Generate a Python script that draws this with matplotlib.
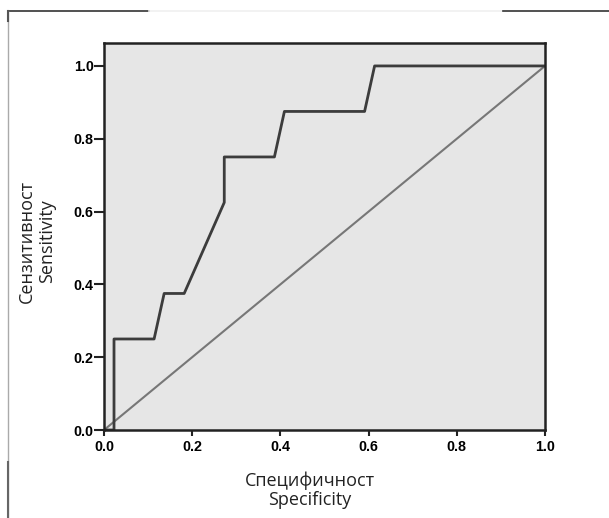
import matplotlib.pyplot as plt
from matplotlib.lines import Line2D

# ROC-крива (1 - специфичност, сензитивност)
fpr = [0.0, 0.0227, 0.0227, 0.1136, 0.1364, 0.1818, 0.2727, 0.2727,
       0.3864, 0.4091, 0.5909, 0.6136, 1.0]
tpr = [0.0, 0.0, 0.25, 0.25, 0.375, 0.375, 0.625, 0.75,
       0.75, 0.875, 0.875, 1.0, 1.0]
ref_x = [0.0, 1.0]
ref_y = [0.0, 1.0]
ticks = [0.0, 0.2, 0.4, 0.6, 0.8, 1.0]

W, H = 609, 518
fig = plt.figure(figsize=(W / 100, H / 100), dpi=100)
ax = fig.add_axes([104 / W, 1 - 430 / H, (545 - 104) / W, (430 - 43) / H])
ax.set_facecolor('#e6e6e6')

ax.plot(ref_x, ref_y, color='#777777', lw=1.5, solid_capstyle='butt')
ax.plot(fpr, tpr, color='#3c3c3c', lw=2.0)

ax.set_xlim(0, 1)
ax.set_ylim(0, 1.063)
ax.set_xticks(ticks)
ax.set_yticks(ticks)
ax.set_xticklabels([f'{t:.1f}' for t in ticks])
ax.set_yticklabels([f'{t:.1f}' for t in ticks])
for lab in ax.get_xticklabels() + ax.get_yticklabels():
    lab.set_fontfamily('Liberation Sans')
    lab.set_fontweight('bold')
    lab.set_fontsize(10.3)
ax.tick_params(axis='x', length=4.5, width=1.5, pad=3, color='#222222')
ax.tick_params(axis='y', length=7, width=1.5, pad=0.5, color='#222222')
for s in ax.spines.values():
    s.set_linewidth(1.8)
    s.set_color('#222222')
    s.set_clip_on(False)

# подписи на оските
fig.text(310 / W, 1 - 490 / H, 'Специфичност\nSpecificity', ha='center', va='center',
         family='Open Sans', fontsize=13, linespacing=1.1, color='#222222')
fig.text(37 / W, 1 - 241 / H, 'Сензитивност\nSensitivity', ha='center', va='center',
         rotation=90, family='Open Sans', fontsize=13, linespacing=1.1, color='#222222')

# рамка околу сликата
def fline(x0, y0, x1, y1, c, lw):
    fig.add_artist(Line2D([x0 / W, x1 / W], [1 - y0 / H, 1 - y1 / H], color=c, lw=lw))

fline(8, 11, 149, 11, '#333333', 1.2)
fline(149, 11, 503, 11, '#f0f0f0', 1.2)
fline(503, 11, 609, 11, '#333333', 1.2)
fline(8, 11, 8, 518, '#aaaaaa', 1.0)
fline(8, 11, 8, 21, '#555555', 1.5)
fline(8, 462, 8, 518, '#666666', 1.5)

fig.savefig('out.png', dpi=100)
